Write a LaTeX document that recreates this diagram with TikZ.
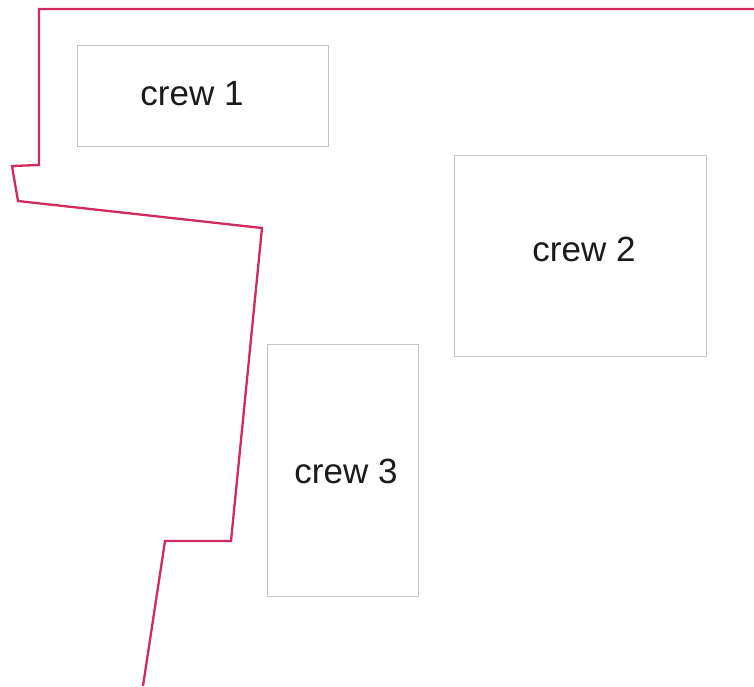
\documentclass[tikz,border=0pt]{standalone}
\usepackage{fontspec}
\setmainfont{Liberation Sans}
\usepackage{tikz}
\usepackage{xcolor}
\definecolor{siteline}{HTML}{D12A5C}
\definecolor{crewgray}{HTML}{C4C4C4}
\definecolor{crewtext}{HTML}{1A1A1A}

\begin{document}
\begin{tikzpicture}[x=1pt,y=-1pt,
  crewbox/.style={draw=crewgray,line width=0.9pt,fill=white,inner sep=0pt},
  crewlabel/.style={text=crewtext,font=\fontsize{35}{40}\selectfont,inner sep=0pt}]
\useasboundingbox (0,0) rectangle (754,686);
% Site boundary, open towards the right and the bottom.
\draw[siteline,line width=2.3pt,line join=miter]
  (754,9)--(39,9)--(39,165)--(12,166)--(18,201)--(262,228)
  --(231,541)--(165,541)--(143,686);
% Work areas of the three crews.
\node[crewbox,minimum width=251pt,minimum height=101pt] (crew1) at (203,95.5) {};
\node[crewbox,minimum width=252pt,minimum height=201pt] (crew2) at (580,255.5) {};
\node[crewbox,minimum width=151pt,minimum height=252pt] (crew3) at (342.5,470) {};
\node[crewlabel] (crew1t) at (192,94) {crew 1};
\node[crewlabel] (crew2t) at (584,249) {crew 2};
\node[crewlabel] (crew3t) at (346,471) {crew 3};
\end{tikzpicture}
\end{document}
